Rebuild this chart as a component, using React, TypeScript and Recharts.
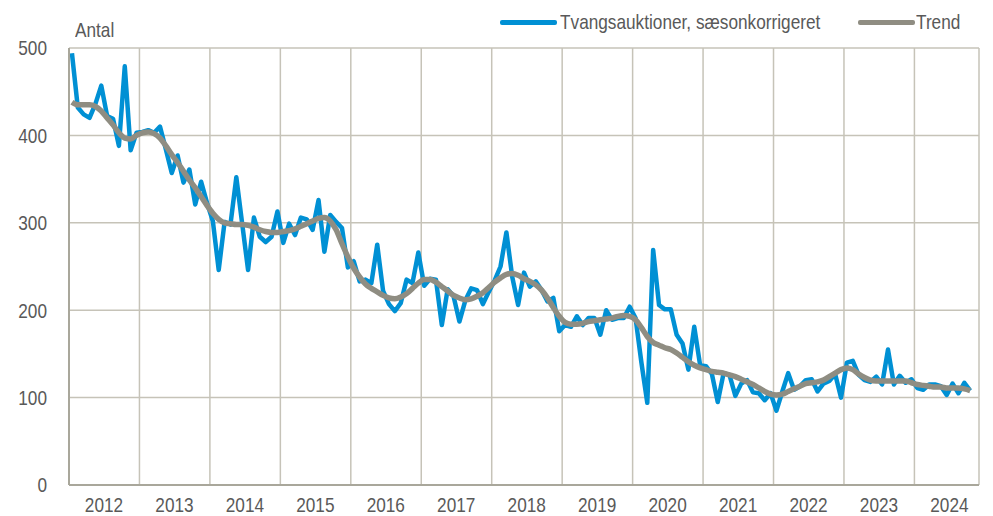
import React from 'react'
import { LineChart, Line, XAxis, YAxis, CartesianGrid } from 'recharts'

// Månedlige tal, jan 2012 - okt 2024
const YEARS = ['2012', '2013', '2014', '2015', '2016', '2017', '2018', '2019', '2020', '2021', '2022', '2023', '2024']

const TVANG = [
  494, 432, 424, 420, 436, 457, 422, 419, 388, 479, 383, 403,
  404, 406, 403, 410, 384, 357, 377, 346, 361, 321, 347, 323,
  302, 246, 301, 298, 352, 299, 246, 306, 284, 278, 284, 313,
  277, 299, 286, 306, 304, 292, 326, 267, 309, 301, 294, 249,
  256, 233, 235, 231, 275, 222, 207, 199, 208, 235, 231, 266,
  228, 236, 235, 183, 224, 216, 187, 211, 225, 223, 207, 221,
  234, 250, 289, 238, 206, 243, 227, 233, 223, 210, 214, 176,
  183, 181, 193, 183, 191, 191, 172, 200, 189, 191, 191, 204,
  191, 140, 94, 269, 206, 201, 201, 172, 162, 132, 181, 137,
  136, 127, 95, 128, 126, 102, 116, 120, 106, 105, 97, 105,
  85, 107, 128, 109, 113, 120, 121, 107, 116, 119, 127, 100,
  140, 142, 126, 120, 118, 124, 115, 155, 115, 125, 117, 121,
  111, 109, 115, 115, 113, 103, 116, 105, 117, 108,
]

const TREND = [
  438, 435, 435, 435, 433, 428, 420, 412, 403, 397, 396, 400,
  403, 404, 402, 397, 388, 378, 369, 359, 349, 340, 330, 320,
  311, 304, 300, 299, 298, 298, 297, 295, 292, 290, 289, 289,
  290, 291, 293, 296, 299, 302, 305, 306, 302, 292, 276, 261,
  248, 238, 230, 225, 221, 217, 214, 213, 215, 219, 225, 231,
  235, 235, 232, 227, 222, 217, 214, 212, 213, 216, 220, 226,
  232, 237, 241, 242, 240, 236, 233, 229, 223, 214, 203, 193,
  186, 184, 184, 185, 187, 188, 189, 190, 191, 193, 194, 193,
  189, 180, 170, 163, 160, 157, 155, 151, 146, 141, 137, 134,
  132, 130, 129, 128, 126, 124, 121, 118, 115, 111, 107, 104,
  103, 104, 107, 110, 113, 116, 117, 118, 120, 124, 128, 132,
  134, 132, 127, 123, 120, 119, 119, 119, 119, 119, 119, 117,
  115, 114, 113, 112, 112, 111, 111, 111, 110, 108,
]

const data = TVANG.map((v, i) => ({ m: i + 0.5, tvang: v, trend: TREND[i] }))

const FONT = "'Liberation Sans', Arial, sans-serif"
const NARROW = 0.82
const TEXT = '#595959'
const BLUE = '#0090D4'
const GREY = '#8F8D82'
const GRID = '#C6C3B8'

const yearTicks = YEARS.map((_, i) => i * 12).concat([155])

// smal tekst (Arial Narrow findes ikke) -> vandret skalering
const NarrowText = ({ x, y, anchor, children }: any) => (
  <text
    transform={`translate(${x},${y}) scale(${NARROW},1)`}
    textAnchor={anchor}
    dy="0.355em"
    fill={TEXT}
    fontSize={21}
    fontFamily={FONT}
  >
    {children}
  </text>
)

const YearTick = (props: any) => {
  const { x, payload } = props
  const idx = payload.value / 12
  if (!YEARS[idx]) return null
  return <NarrowText x={x + 35} y={505} anchor="middle">{YEARS[idx]}</NarrowText>
}

const ValueTick = (props: any) => {
  const { y, payload } = props
  return <NarrowText x={47} y={y} anchor="end">{payload.value}</NarrowText>
}

const Label = ({ left, top, children }: any) => (
  <div style={{ position: 'absolute', left, top, fontSize: 21, lineHeight: '24px', whiteSpace: 'nowrap', transform: `scaleX(${NARROW})`, transformOrigin: 'left center' }}>
    {children}
  </div>
)

const Swatch = ({ left, color }: { left: number; color: string }) => (
  <div style={{ position: 'absolute', left, top: 20, width: 57, height: 5, background: color, borderRadius: 2 }} />
)

export default function App() {
  return (
    <div style={{ position: 'absolute', left: 0, top: 0, width: 993, height: 516, fontFamily: FONT, color: TEXT }}>
      <LineChart width={993} height={516} data={data} margin={{ top: 48, right: 14, bottom: 0, left: 0 }}>
        <CartesianGrid stroke={GRID} strokeWidth={1.5} />
        <XAxis
          dataKey="m"
          type="number"
          domain={[0, 155]}
          ticks={yearTicks}
          interval={0}
          height={31}
          tick={<YearTick />}
          tickLine={false}
          axisLine={{ stroke: '#A9A79B', strokeWidth: 2 }}
        />
        <YAxis
          domain={[0, 500]}
          ticks={[0, 100, 200, 300, 400, 500]}
          width={69}
          tickLine={false}
          tick={<ValueTick />}
          axisLine={{ stroke: '#A9A79B', strokeWidth: 2 }}
        />
        <Line type="linear" dataKey="tvang" stroke={BLUE} strokeWidth={4.5} dot={false} strokeLinejoin="round" isAnimationActive={false} />
        <Line type="monotone" dataKey="trend" stroke={GREY} strokeWidth={5.5} dot={false} isAnimationActive={false} />
      </LineChart>
      <Label left={75} top={18}>Antal</Label>
      <Swatch left={500} color={BLUE} />
      <Label left={560} top={10}>Tvangsauktioner, sæsonkorrigeret</Label>
      <Swatch left={858} color={GREY} />
      <Label left={916} top={10}>Trend</Label>
    </div>
  )
}
